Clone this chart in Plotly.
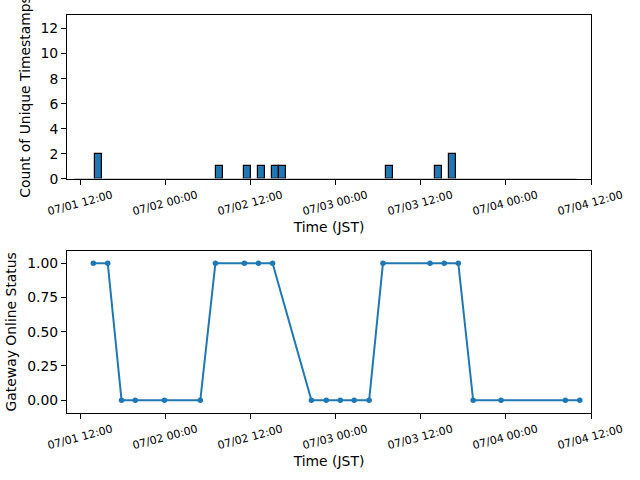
import pandas as pd
import plotly.graph_objects as go

# ---------------- data ----------------
# histogram (hourly bins) of unique timestamps
hist_start = "2024-07-01 11:00"
hist_end = "2024-07-04 10:00"
hist_nonzero_bins = ["2024-07-01 14:00", "2024-07-02 07:00", "2024-07-02 11:00",
                     "2024-07-02 13:00", "2024-07-02 15:00", "2024-07-02 16:00",
                     "2024-07-03 07:00", "2024-07-03 14:00", "2024-07-03 16:00"]
hist_nonzero_counts = [2, 1, 1, 1, 1, 1, 1, 1, 2]

# gateway online status
status_times = ["2024-07-01 13:45", "2024-07-01 15:47", "2024-07-01 17:44", "2024-07-01 19:40",
                "2024-07-01 23:47", "2024-07-02 04:51", "2024-07-02 06:59", "2024-07-02 11:04",
                "2024-07-02 13:04", "2024-07-02 15:03", "2024-07-02 20:32", "2024-07-02 22:38",
                "2024-07-03 00:37", "2024-07-03 02:34", "2024-07-03 04:41", "2024-07-03 06:38",
                "2024-07-03 13:17", "2024-07-03 15:17", "2024-07-03 17:16", "2024-07-03 19:22",
                "2024-07-03 23:18", "2024-07-04 08:23", "2024-07-04 10:25"]
status_values = [1, 1, 0, 0, 0, 0, 1, 1, 1, 1, 0, 0, 0, 0, 0, 1, 1, 1, 1, 0, 0, 0, 0]

tick_times = ["2024-07-01 12:00", "2024-07-02 00:00", "2024-07-02 12:00", "2024-07-03 00:00",
              "2024-07-03 12:00", "2024-07-04 00:00", "2024-07-04 12:00"]
tick_labels = ["07/01 12:00", "07/02 00:00", "07/02 12:00", "07/03 00:00",
               "07/03 12:00", "07/04 00:00", "07/04 12:00"]

x_range = ["2024-07-01 10:02", "2024-07-04 12:00"]

# ---------------- build ----------------
bins = pd.date_range(hist_start, hist_end, freq="h")
bin_starts = bins[:-1]
counts = pd.Series(0, index=bin_starts)
for b, c in zip(hist_nonzero_bins, hist_nonzero_counts):
    counts[pd.Timestamp(b)] = c
nz = counts[counts > 0]

BLUE = "#1f77b4"
FONT = "DejaVu Sans"

fig = go.Figure()

# zero-bin baseline
fig.add_trace(go.Scatter(
    x=[bins[0], bins[-1]], y=[0, 0], mode="lines",
    line=dict(color="#b8b8b8", width=1.5), hoverinfo="skip", showlegend=False,
    xaxis="x", yaxis="y"))

fig.add_trace(go.Bar(
    x=list(nz.index), y=list(nz.values), width=3600000, offset=0,
    marker=dict(color=BLUE, line=dict(color="black", width=1.2)),
    showlegend=False, xaxis="x", yaxis="y"))

fig.add_trace(go.Scatter(
    x=pd.to_datetime(status_times), y=status_values, mode="lines+markers",
    line=dict(color=BLUE, width=2), marker=dict(color=BLUE, size=5.5),
    showlegend=False, xaxis="x2", yaxis="y2"))

common_x = dict(
    type="date", range=x_range, tickvals=pd.to_datetime(tick_times), ticktext=tick_labels,
    tickangle=-15, tickfont=dict(family=FONT, size=11, color="black"),
    ticks="outside", ticklen=5, tickcolor="black", tickwidth=1,
    showline=True, mirror=True, linecolor="black", linewidth=1,
    showgrid=False, zeroline=False, automargin=False, ticklabelshift=31,
)
common_y = dict(
    ticks="outside", ticklen=5, tickcolor="black", tickwidth=1,
    tickfont=dict(family=FONT, size=13.9, color="black"),
    showline=True, mirror=True, linecolor="black", linewidth=1,
    showgrid=False, zeroline=False, automargin=False,
)

fig.update_layout(
    width=640, height=480,
    margin=dict(l=67, r=49, t=15, b=67),
    paper_bgcolor="white", plot_bgcolor="white",
    font=dict(family=FONT, color="black"),
    bargap=0,
    xaxis=dict(common_x, domain=[0, 1], anchor="y",
               title=dict(text="Time (JST)", font=dict(family=FONT, size=13.9, color="black"), standoff=5)),
    yaxis=dict(common_y, domain=[0.588, 1], anchor="x", range=[0, 13.08],
               tickvals=[0, 2, 4, 6, 8, 10, 12],
               title=dict(text="Count of Unique Timestamps", font=dict(family=FONT, size=13.9, color="black"), standoff=6)),
    xaxis2=dict(common_x, domain=[0, 1], anchor="y2",
                title=dict(text="Time (JST)", font=dict(family=FONT, size=13.9, color="black"), standoff=5)),
    yaxis2=dict(common_y, domain=[0, 0.408], anchor="x2", range=[-0.093, 1.092],
                tickvals=[0, 0.25, 0.5, 0.75, 1.0], tickformat=".2f",
                title=dict(text="Gateway Online Status", font=dict(family=FONT, size=13.9, color="black"), standoff=7)),
)

fig.write_html("out.html")
